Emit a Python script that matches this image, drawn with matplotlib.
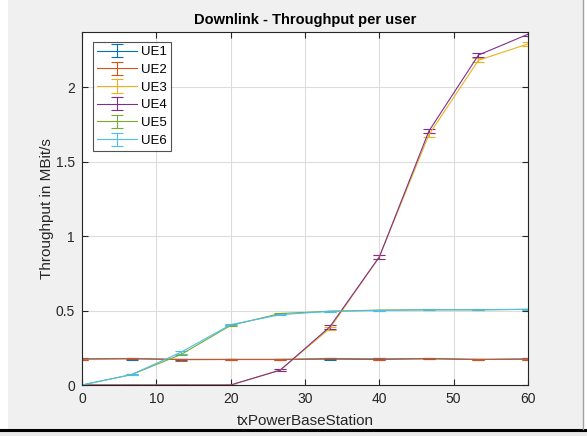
import matplotlib
matplotlib.use("Agg")
import matplotlib.pyplot as plt
from matplotlib.patches import Rectangle
from matplotlib.lines import Line2D

plt.rcParams['font.family'] = ['Liberation Sans', 'DejaVu Sans']

tx_power = [0, 6.67, 13.33, 20, 26.67, 33.33, 40, 46.67, 53.33, 60]

ue1 = [0.175, 0.176, 0.172, 0.172, 0.172, 0.174, 0.172, 0.176, 0.172, 0.174]
ue2 = [0.174, 0.178, 0.170, 0.171, 0.171, 0.178, 0.175, 0.178, 0.171, 0.175]
ue3 = [0.0, 0.0, 0.0, 0.0, 0.10, 0.38, 0.86, 1.68, 2.18, 2.29]
ue4 = [0.0, 0.0, 0.0, 0.0, 0.10, 0.39, 0.86, 1.705, 2.215, 2.355]
ue5 = [0.0, 0.07, 0.205, 0.40, 0.48, 0.495, 0.503, 0.505, 0.505, 0.508]
ue6 = [0.0, 0.07, 0.22, 0.405, 0.472, 0.495, 0.50, 0.505, 0.505, 0.508]

err1 = [0.008, 0.005, 0.004, 0.005, 0.005, 0.004, 0.006, 0.004, 0.005, 0.008]
err2 = [0.008, 0.006, 0.006, 0.005, 0.005, 0.006, 0.006, 0.006, 0.005, 0.008]
err3 = [0.0, 0.0, 0.0, 0.0, 0.008, 0.012, 0.012, 0.014, 0.014, 0.014]
err4 = [0.0, 0.0, 0.0, 0.0, 0.008, 0.012, 0.012, 0.014, 0.014, 0.014]
err5 = [0.0, 0.004, 0.006, 0.005, 0.004, 0.003, 0.003, 0.003, 0.003, 0.003]
err6 = [0.0, 0.004, 0.01, 0.005, 0.004, 0.003, 0.003, 0.003, 0.003, 0.003]

labels = ['UE1', 'UE2', 'UE3', 'UE4', 'UE5', 'UE6']
colors = ['#0072BD', '#D95319', '#EDB120', '#7E2F8E', '#77AC30', '#4DBEEE']
series = [ue1, ue2, ue3, ue4, ue5, ue6]
errors = [err1, err2, err3, err4, err5, err6]

fig = plt.figure(figsize=(5.87, 4.36), dpi=100, facecolor='white')
W, H = 587, 436
# window background (screenshot)
fig.add_artist(Rectangle((8 / W, (H - 429) / H), (583 - 8) / W, 429 / H,
                         transform=fig.transFigure, facecolor='#f0f0f0',
                         edgecolor='none', zorder=-10))
fig.add_artist(Rectangle((0, 0), 1, (H - 431) / H, transform=fig.transFigure,
                         facecolor='#e8e8e8', edgecolor='none', zorder=-10))
fig.add_artist(Line2D([0, 1], [(H - 430) / H] * 2, transform=fig.transFigure,
                      color='black', linewidth=2.2))
fig.add_artist(Line2D([583 / W] * 2, [(H - 429) / H, 1], transform=fig.transFigure,
                      color='#a0a0a0', linewidth=1.0))

ax = fig.add_axes([82 / W, (H - 385) / H, (528 - 82) / W, (385 - 32) / H])
ax.set_facecolor('white')

for y, e, lab, c in zip(series, errors, labels, colors):
    ax.errorbar(tx_power, y, yerr=e, color=c, linewidth=0.8, elinewidth=0.8,
                capsize=4, capthick=0.8, label=lab)

ax.set_xlim(0, 60)
ax.set_ylim(0, 2.37)
ax.set_xticks([0, 10, 20, 30, 40, 50, 60])
ax.set_yticks([0, 0.5, 1, 1.5, 2])
ax.set_yticklabels(['0', '0.5', '1', '1.5', '2'])
ax.grid(True, color='#dcdcdc', linewidth=0.8)
ax.set_axisbelow(True)
ax.tick_params(direction='in', length=4, width=0.8, top=True, right=True,
               labelsize=10, colors='#262626', labelcolor='#262626', pad=5)
for s in ax.spines.values():
    s.set_color('#262626')
    s.set_linewidth(0.8)

ax.set_title('Downlink - Throughput per user', fontsize=10.5, fontweight='bold',
             color='black', pad=6)
ax.set_xlabel('txPowerBaseStation', fontsize=11, color='#262626', labelpad=6)
ax.set_ylabel('Throughput in MBit/s', fontsize=11, color='#262626', labelpad=1)

leg = ax.legend(loc='upper left', bbox_to_anchor=(0.025, 0.972), fontsize=9.5,
                frameon=True, fancybox=False, handlelength=3.0, handleheight=0.75,
                borderpad=0.3, labelspacing=0.4, handletextpad=0.35,
                borderaxespad=0)
leg.get_frame().set_edgecolor('#262626')
leg.get_frame().set_linewidth(0.8)

fig.savefig('out.png', dpi=100, facecolor=fig.get_facecolor())
